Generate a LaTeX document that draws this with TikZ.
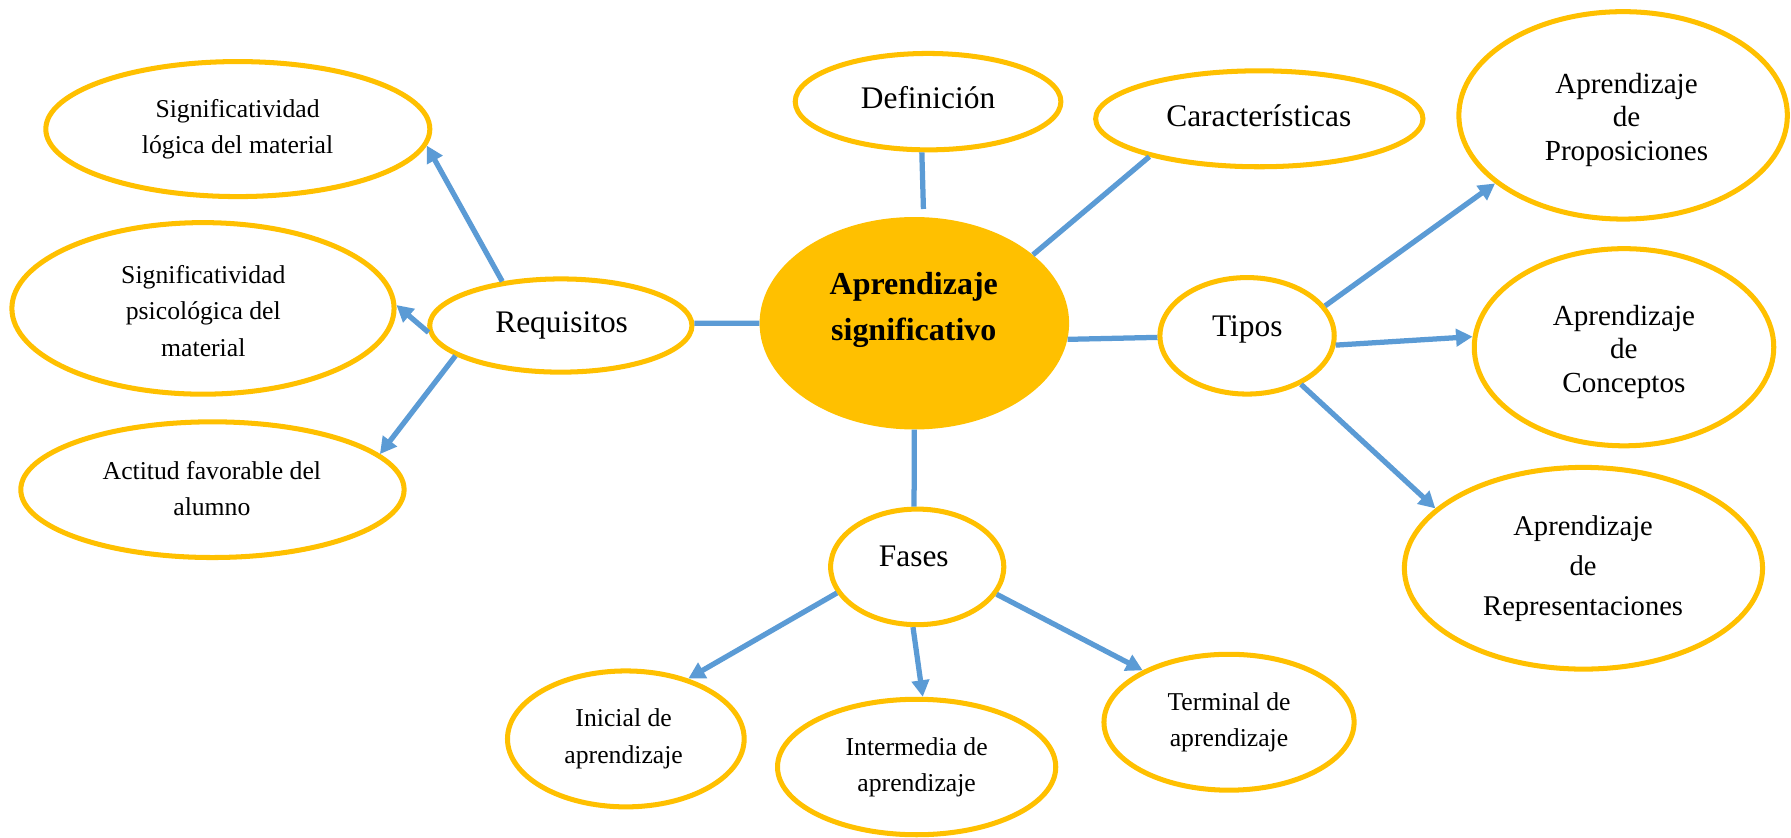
\documentclass[tikz,border=0pt]{standalone}
\usepackage{fontspec}
\setmainfont{Liberation Serif}
\usetikzlibrary{shapes.geometric,arrows.meta}
\definecolor{gold}{HTML}{FFC000}
\definecolor{lblue}{HTML}{5B9BD5}
\tikzset{
  oval/.style={ellipse, draw=gold, line width=4.4pt, inner sep=0pt, fill=white},
  hub/.style={ellipse, fill=gold, draw=none, inner sep=0pt},
  txt/.style={inner sep=0pt, align=center},
  fbig/.style={txt, anchor=base, font=\fontsize{27.5}{33}\selectfont},
  fmid/.style={txt, font=\fontsize{25.5}{29.3}\selectfont},
  fsmall/.style={txt, font=\fontsize{22.5}{32}\selectfont},
  link/.style={draw=lblue, line width=4.6pt},
  arrowlink/.style={link, -{Triangle[length=14.5pt,width=15pt]}},
}
\begin{document}
\begin{tikzpicture}[x=1pt,y=-1pt]
\useasboundingbox (0,0) rectangle (1568,733);
% ellipses
\node[hub, minimum width=271pt, minimum height=186pt] (C) at (800.5,283) {};
\node[oval, minimum width=232.6pt, minimum height=84.4pt] (Def) at (812.5,89) {};
\node[oval, minimum width=286.6pt, minimum height=84pt] (Car) at (1102.5,104) {};
\node[oval, minimum width=287.6pt, minimum height=181.6pt] (Prop) at (1421,101) {};
\node[oval, minimum width=262.2pt, minimum height=172.6pt] (Conc) at (1421.8,304) {};
\node[oval, minimum width=313.6pt, minimum height=176.6pt] (Rep) at (1386.3,497.5) {};
\node[oval, minimum width=152.6pt, minimum height=102pt] (Tipos) at (1091.8,294) {};
\node[oval, minimum width=151.6pt, minimum height=101.2pt] (Fases) at (803,496.3) {};
\node[oval, minimum width=207.2pt, minimum height=119pt] (Ini) at (547.9,646.9) {};
\node[oval, minimum width=243.6pt, minimum height=118.6pt] (Int) at (802.5,671.5) {};
\node[oval, minimum width=219pt, minimum height=119pt] (Ter) at (1076,632.3) {};
\node[oval, minimum width=229.6pt, minimum height=81.6pt] (Req) at (491,285) {};
\node[oval, minimum width=336.2pt, minimum height=118.2pt] (SL) at (208.2,113) {};
\node[oval, minimum width=334.6pt, minimum height=150.2pt] (SP) at (177.7,270) {};
\node[oval, minimum width=335.6pt, minimum height=118.8pt] (AF) at (186,428.7) {};
% texts
\node[txt, font=\fontsize{28}{40}\selectfont\bfseries] (tC) at (800,271.5) {Aprendizaje\\significativo};
\node[fbig] (tDef) at (812.5,94.8) {Definición};
\node[fbig] (tCar) at (1102,111) {Características};
\node[fbig] (tTipos) at (1092,294.2) {Tipos};
\node[fbig] (tFases) at (800,496.1) {Fases};
\node[fbig] (tReq) at (491.7,291) {Requisitos};
\node[fmid] (tProp) at (1424,105) {Aprendizaje\\de\\Proposiciones};
\node[fmid] (tConc) at (1421.7,307.8) {Aprendizaje\\de\\Conceptos};
\node[txt, font=\fontsize{25}{35.3}\selectfont] (tRep) at (1386,497.8) {Aprendizaje\\de\\Representaciones};
\node[fsmall] (tIni) at (546,647) {Inicial de\\aprendizaje};
\node[fsmall] (tInt) at (802.5,671.7) {Intermedia de\\aprendizaje};
\node[fsmall] (tTer) at (1076,632.3) {Terminal de\\aprendizaje};
\node[fsmall] (tSL) at (208,113) {Significatividad\\lógica del material};
\node[fsmall] (tSP) at (178,272.3) {Significatividad\\psicológica del\\material};
\node[fsmall] (tAF) at (185.5,427.7) {Actitud favorable del\\alumno};
% links from centre
\draw[link, shorten <=7pt] (C.85.5) -- (Def.263);
\draw[link] (C.30.6) -- (Car.199);
\draw[link] (C.-6.9) -- (Tipos.181);
\draw[link] (C.270.3) -- (Fases.93);
\draw[link] (C.180.8) -- (Req.1);
% requisitos
\draw[arrowlink] (Req.143.8) -- (SL.-5.8);
\draw[arrowlink] (Req.183.6) -- (SP.1.3);
\draw[arrowlink] (Req.196.6) -- (AF.12.9);
% tipos
\draw[arrowlink] (Tipos.21.3) -- (Prop.208.1);
\draw[arrowlink] (Tipos.-6.7) -- (Conc.176.1);
\draw[arrowlink] (Tipos.-42.9) -- (Rep.158.2);
% fases
\draw[arrowlink] (Fases.198.7) -- (Ini.44.8);
\draw[arrowlink] (Fases.266.3) -- (Int.85.2);
\draw[arrowlink] (Fases.-19.8) -- (Ter.149.6);
\end{tikzpicture}
\end{document}
